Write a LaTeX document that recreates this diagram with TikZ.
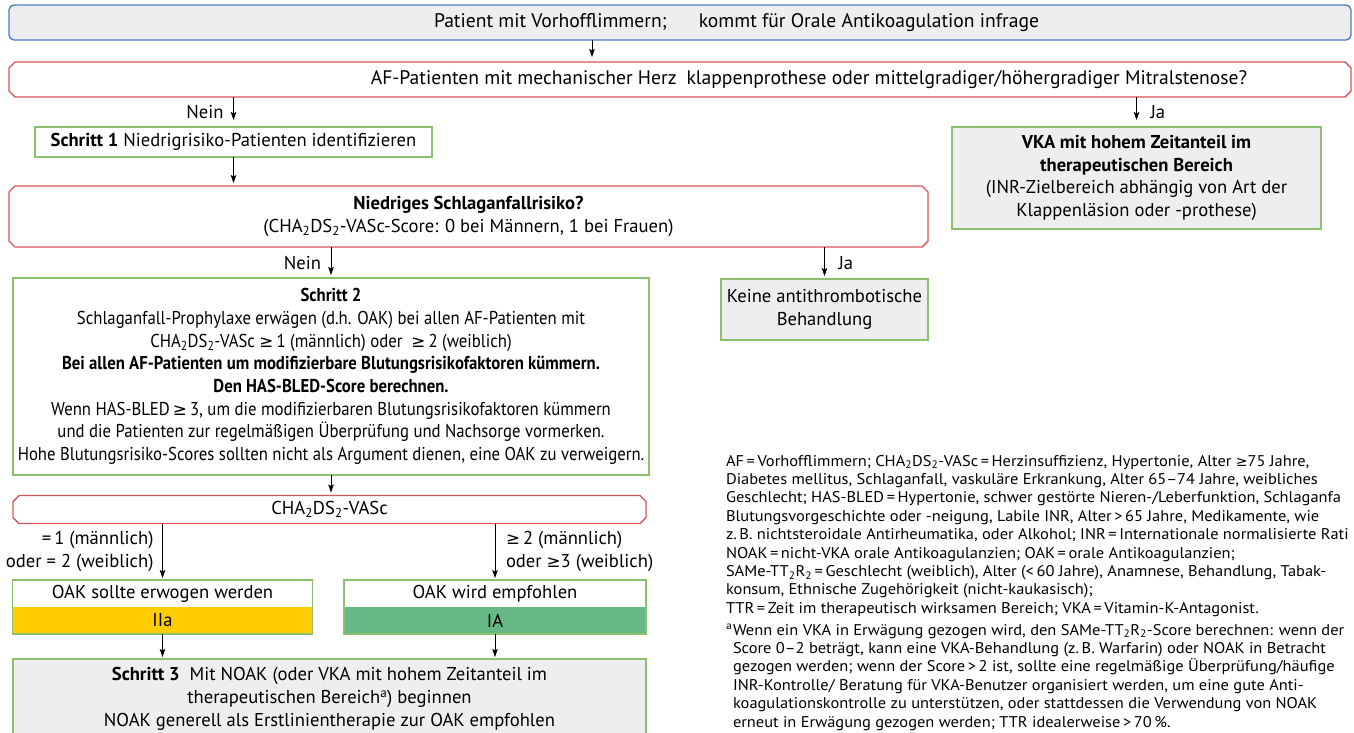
\documentclass[tikz,border=0pt]{standalone}
\usepackage{fontspec}
\setmainfont{PT Sans}
\newfontfamily\narrowfont{PT Sans}[FakeStretch=0.9]
\newfontfamily\notefont{PT Sans}[FakeStretch=1.06]
\newfontfamily\symfont{DejaVu Sans}[Scale=0.9]
\usetikzlibrary{arrows.meta}

\definecolor{blueline}{HTML}{4A7EC4}
\definecolor{redline}{HTML}{D95459}
\definecolor{greenline}{HTML}{8CC06C}
\definecolor{boxgray}{HTML}{EDEEF0}
\definecolor{klasseIIa}{HTML}{FFCC00}
\definecolor{klasseIA}{HTML}{66B985}

\newcommand\chads{CHA\textsubscript{2}DS\textsubscript{2}-VASc}
\newcommand\samett{SAMe-TT\textsubscript{2}R\textsubscript{2}}
\newcommand\gesym{{\symfont ≥}}
% outline with cut corners around a question node
\newcommand\chamferframe[1]{%
  \draw[redline, line width=1.4pt] ([xshift=6pt]#1.north west) -- ([xshift=-6pt]#1.north east)
    -- ([yshift=-6pt]#1.north east) -- ([yshift=6pt]#1.south east)
    -- ([xshift=-6pt]#1.south east) -- ([xshift=6pt]#1.south west)
    -- ([yshift=6pt]#1.south west) -- ([yshift=-6pt]#1.north west) -- cycle;}

\begin{document}
\begin{tikzpicture}[x=1pt,y=-1pt,
    every node/.style={font=\fontsize{18.6}{22.7}\selectfont, inner sep=0pt, outer sep=0pt},
    startbox/.style={draw=blueline, fill=boxgray, line width=1.4pt, rounded corners=5pt},
    askbox/.style={fill=white, align=center},
    stepbox/.style={draw=greenline, fill=white, line width=1.4pt, align=center},
    graybox/.style={stepbox, fill=boxgray},
    klassebox/.style={minimum width=300pt, minimum height=27pt},
    arr/.style={-{Stealth[length=8pt,width=5.5pt,inset=1.5pt]}, line width=0.7pt, shorten >=2pt}]

    \useasboundingbox (0,0) rectangle (1354,732);
    \clip (0,0) rectangle (1354,732);

    % Kopf
    \node[startbox, minimum width=1342pt, minimum height=35pt, font=\fontsize{19.6}{22.7}\selectfont] (patient) at (680,22.5)
        {\hspace*{113pt}Patient mit Vorhofflimmern;\hspace{32pt}kommt für Orale Antikoagulation infrage};
    \node[askbox, minimum width=1342pt, minimum height=35pt, font=\fontsize{19.6}{22.7}\selectfont] (klappe) at (680,79.5)
        {\hspace*{258pt}AF-Patienten mit mechanischer Herz\hspace{10pt}klappenprothese oder mittelgradiger/höhergradiger Mitralstenose?};
    \chamferframe{klappe}

    % Schritt 1
    \node[stepbox, minimum width=397pt, minimum height=30pt] (schritt1) at (233.5,142)
        {\textbf{Schritt 1} Niedrigrisiko-Patienten identifizieren};
    \node[graybox, minimum width=369pt, minimum height=102pt] (vka) at (1136.5,178)
        {\textbf{VKA mit hohem Zeitanteil im}\\\textbf{therapeutischen Bereich}\\
         (INR-Zielbereich abhängig von Art der\\Klappenläsion oder -prothese)};
    \node[askbox, minimum width=919pt, minimum height=61pt] (risiko) at (468.5,216.5)
        {\textbf{Niedriges Schlaganfallrisiko?}\\(\chads-Score: 0 bei Männern, 1 bei Frauen)};
    \chamferframe{risiko}

    % Schritt 2
    \node[graybox, minimum width=207pt, minimum height=61pt] (keine) at (824.5,309.5)
        {Keine antithrombotische\\Behandlung};
    \node[stepbox, minimum width=636pt, minimum height=197pt, font=\narrowfont\fontsize{18.6}{22.7}\selectfont] (schritt2) at (331,376.5)
        {\textbf{Schritt 2}\\
         Schlaganfall-Prophylaxe erwägen (d.h. OAK) bei allen AF-Patienten mit\\
         \chads\ \gesym\,1 (männlich) oder \ \gesym\,2 (weiblich)\\
         \textbf{Bei allen AF-Patienten um modifizierbare Blutungsrisikofaktoren kümmern.}\\
         \textbf{Den HAS-BLED-Score berechnen.}\\
         Wenn HAS-BLED\,\gesym\,3, um die modifizierbaren Blutungsrisikofaktoren kümmern\\
         und die Patienten zur regelmäßigen Überprüfung und Nachsorge vormerken.\\
         Hohe Blutungsrisiko-Scores sollten nicht als Argument dienen, eine OAK zu verweigern.};
    \node[askbox, minimum width=633pt, minimum height=28pt] (score) at (329.5,509.5) {\chads};
    \chamferframe{score}

    % Empfehlung
    \node[klassebox, fill=white] (oaksoll) at (162.5,593.5) {OAK sollte erwogen werden};
    \node[klassebox, fill=klasseIIa, anchor=north] (klasse2a) at (oaksoll.south) {IIa};
    \draw[greenline, line width=1.4pt] (oaksoll.north west) rectangle (klasse2a.south east);
    \node[klassebox, minimum width=302pt, fill=white] (oakempf) at (495,593.5) {OAK wird empfohlen};
    \node[klassebox, minimum width=302pt, fill=klasseIA, anchor=north] (klasse1a) at (oakempf.south) {IA};
    \draw[greenline, line width=1.4pt] (oakempf.north west) rectangle (klasse1a.south east);

    % Schritt 3
    \node[graybox, minimum width=633pt, minimum height=80pt] (schritt3) at (329.5,699)
        {\textbf{Schritt 3}\ \ Mit NOAK (oder VKA mit hohem Zeitanteil im\\
         therapeutischen Bereich\textsuperscript{a}) beginnen\\
         NOAK generell als Erstlinientherapie zur OAK empfohlen};

    % Verbindungen
    \draw[arr, shorten >=5pt] ([xshift=-88pt]patient.south) -- ([xshift=-88pt]klappe.north);
    \draw[arr, shorten >=7pt] (klappe.south -| schritt1.north) -- node[left=10pt] (nein1) {Nein} (schritt1.north);
    \draw[arr, shorten >=7pt] (klappe.south -| vka.north) -- node[right=14pt] (ja1) {Ja} (vka.north);
    \draw[arr, shorten >=3pt] (schritt1.south) -- (schritt1.south |- risiko.north);
    \draw[arr, shorten >=3pt] (risiko.south -| schritt2.north) -- node[left=10pt] (nein2) {Nein} (schritt2.north);
    \draw[arr, shorten >=3pt] (risiko.south -| keine.north) -- node[right=14pt] (ja2) {Ja} (keine.north);
    \draw[arr, shorten >=3pt] (schritt2.south) -- (schritt2.south |- score.north);
    \draw[arr] (score.south -| oaksoll.north) -- node[left=9pt, align=right] (mann1)
        {=\,1 (männlich)\\oder = 2 (weiblich)} (oaksoll.north);
    \draw[arr] (score.south -| oakempf.north) -- node[right=11pt, align=left] (mann2)
        {\gesym\,2 (männlich)\\oder \gesym3 (weiblich)} (oakempf.north);
    \draw[arr] (klasse2a.south) -- (klasse2a.south |- schritt3.north);
    \draw[arr] (klasse1a.south) -- (klasse1a.south |- schritt3.north);

    % Abkuerzungen
    \node[anchor=north west, align=left, font=\notefont\fontsize{15.5}{18.4}\selectfont] (legende) at (726,455)
        {AF\,=\,Vorhofflimmern; \chads\,=\,Herzinsuffizienz, Hypertonie, Alter \gesym75 Jahre,\\
         Diabetes mellitus, Schlaganfall, vaskuläre Erkrankung, Alter 65–74 Jahre, weibliches\\
         Geschlecht; HAS-BLED\,=\,Hypertonie, schwer gestörte Nieren-/Leberfunktion, Schlaganfa\\
         Blutungsvorgeschichte oder -neigung, Labile INR, Alter\,>\,65 Jahre, Medikamente, wie\\
         z.\,B. nichtsteroidale Antirheumatika, oder Alkohol; INR\,=\,Internationale normalisierte Rati\\
         NOAK\,=\,nicht-VKA orale Antikoagulanzien; OAK\,=\,orale Antikoagulanzien;\\
         \samett\,=\,Geschlecht (weiblich), Alter (<\,60 Jahre), Anamnese, Behandlung, Tabak-\\
         konsum, Ethnische Zugehörigkeit (nicht-kaukasisch);\\
         TTR\,=\,Zeit im therapeutisch wirksamen Bereich; VKA\,=\,Vitamin-K-Antagonist.\\[3.5pt]
         \makebox[7pt][l]{\textsuperscript{a}}Wenn ein VKA in Erwägung gezogen wird, den \samett-Score berechnen: wenn der\\
         \hspace*{7pt}Score 0–2 beträgt, kann eine VKA-Behandlung (z.\,B. Warfarin) oder NOAK in Betracht\\
         \hspace*{7pt}gezogen werden; wenn der Score\,>\,2 ist, sollte eine regelmäßige Überprüfung/häufige\\
         \hspace*{7pt}INR-Kontrolle/ Beratung für VKA-Benutzer organisiert werden, um eine gute Anti-\\
         \hspace*{7pt}koagulationskontrolle zu unterstützen, oder stattdessen die Verwendung von NOAK\\
         \hspace*{7pt}erneut in Erwägung gezogen werden; TTR idealerweise\,>\,70\,\%.};
\end{tikzpicture}
\end{document}
